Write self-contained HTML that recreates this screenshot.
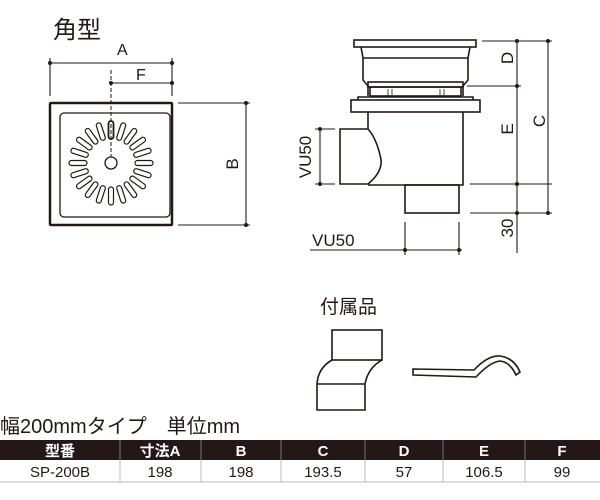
<!DOCTYPE html>
<html><head><meta charset="utf-8"><style>
body{margin:0;background:#fff;width:600px;height:500px;overflow:hidden;font-family:"Liberation Sans","Noto Sans CJK JP",sans-serif}
</style></head><body>
<svg width="600" height="500" viewBox="0 0 600 500" xmlns="http://www.w3.org/2000/svg" style="position:absolute;left:0;top:0">
<g font-family="Liberation Sans, Noto Sans CJK JP, sans-serif" fill="#231815">
<text x="53" y="38" font-size="24">角型</text>
<text x="117" y="55" font-size="16">A</text>
<text x="136" y="80" font-size="16">F</text>
<text x="238" y="164" font-size="17" transform="rotate(-90 238 164)" text-anchor="middle">B</text>
<text x="513" y="70" font-size="17" transform="rotate(-90 507 64)" text-anchor="middle">D</text>
<text x="513" y="141" font-size="17" transform="rotate(-90 507 135)" text-anchor="middle">E</text>
<text x="545" y="133" font-size="17" transform="rotate(-90 539 127)" text-anchor="middle">C</text>
<text x="513" y="240" font-size="17" transform="rotate(-90 507 234)" text-anchor="middle">30</text>
<text x="311" y="157" font-size="17" transform="rotate(-90 311 157)" text-anchor="middle">VU50</text>
<text x="312" y="246" font-size="17">VU50</text>
<text x="320" y="313" font-size="19">付属品</text>
<text x="0" y="433" font-size="20">幅200mmタイプ　単位mm</text>
</g>
<g stroke="#231815" fill="none">
<rect x="50" y="103" width="122" height="122" stroke-width="2.5" rx="1"/>
<rect x="60" y="113" width="110" height="104" rx="4" stroke-width="1.3"/>
<circle cx="111" cy="163" r="6" stroke-width="1.3"/>
<line x1="111" y1="70" x2="111" y2="157" stroke-dasharray="4,2" stroke-width="1"/>
<g stroke-width="1.1">
<line x1="50" y1="63" x2="172" y2="63"/><line x1="50" y1="58" x2="50" y2="96"/><line x1="172" y1="58" x2="172" y2="96"/>
<line x1="111" y1="83" x2="172" y2="83"/>
<line x1="178" y1="103" x2="250" y2="103"/><line x1="178" y1="225" x2="250" y2="225"/><line x1="246" y1="103" x2="246" y2="225"/>
</g>
<g fill="#231815" stroke="none">
<circle cx="50" cy="63" r="2"/><circle cx="172" cy="63" r="2"/><circle cx="111" cy="83" r="2"/><circle cx="172" cy="83" r="2"/>
<circle cx="246" cy="103" r="2"/><circle cx="246" cy="225" r="2"/>
</g>
<g stroke-width="1.6">
<rect x="354" y="40" width="122" height="7"/>
<path d="M361 47 L363 58 L363 80 L368 86 L368 96 M470 47 L468 58 L468 80 L463 86 L463 96"/>
<line x1="363" y1="58" x2="468" y2="58"/>
<rect x="368" y="82" width="95" height="5"/>
<rect x="370" y="87" width="91" height="9"/>
<rect x="351" y="100" width="129" height="12"/>
<path d="M358 100 L358 97 L473 97 L473 100"/>
<path d="M368 112 L368 129 M463 112 L463 185 L368 185"/>
<path d="M368 129 L340 129 L340 184 L368 184 Q385 170 380 155 Q376 138 368 129"/>
<rect x="405" y="185" width="54" height="28"/>
</g>
<g stroke-width="0.8">
<line x1="388" y1="89" x2="388" y2="96"/><line x1="392" y1="89" x2="392" y2="96"/>
<line x1="440" y1="89" x2="440" y2="96"/><line x1="444" y1="89" x2="444" y2="96"/>
</g>
<g stroke-width="1.1">
<line x1="482" y1="41" x2="552" y2="41"/><line x1="467" y1="86" x2="521" y2="86"/>
<line x1="470" y1="184" x2="552" y2="184"/><line x1="470" y1="213" x2="552" y2="213"/>
<line x1="517" y1="41" x2="517" y2="253"/><line x1="548" y1="41" x2="548" y2="213"/>
<line x1="315" y1="129" x2="335" y2="129"/><line x1="315" y1="184" x2="335" y2="184"/><line x1="320" y1="129" x2="320" y2="184"/>
<line x1="405" y1="222" x2="405" y2="255"/><line x1="459" y1="222" x2="459" y2="255"/><line x1="310" y1="250" x2="462" y2="250"/>
</g>
<g fill="#231815" stroke="none">
<circle cx="517" cy="41" r="2"/><circle cx="548" cy="41" r="2"/><circle cx="517" cy="86" r="2"/><circle cx="517" cy="184" r="2"/>
<circle cx="517" cy="213" r="2"/><circle cx="548" cy="213" r="2"/><circle cx="320" cy="129" r="2"/><circle cx="320" cy="184" r="2"/>
<circle cx="405" cy="250" r="2"/><circle cx="459" cy="250" r="2"/>
</g>
<g stroke-width="1.6">
<rect x="332" y="330" width="50" height="30"/>
<path d="M332 360 Q318 368 317 384 L317 410 L365 410 L365 384 Q368 368 382 360"/>
<line x1="317" y1="384" x2="365" y2="384"/>
<path d="M413 369 L474 370 Q488 355 500 356 Q514 358 520 372 L516 375 Q510 362 500 361 Q490 362 476 377 L413 375 Z"/>
</g>
</g>
<rect x="0" y="440" width="600" height="20" fill="#231815"/>
<g stroke="#bbb" stroke-width="1">
<line x1="0" y1="482" x2="600" y2="482"/>
<line x1="120" y1="460" x2="120" y2="482"/><line x1="201" y1="460" x2="201" y2="482"/><line x1="281" y1="460" x2="281" y2="482"/>
<line x1="365" y1="460" x2="365" y2="482"/><line x1="443" y1="460" x2="443" y2="482"/><line x1="525" y1="460" x2="525" y2="482"/>
</g>
<g stroke="#777" stroke-width="1">
<line x1="120" y1="440" x2="120" y2="460"/><line x1="201" y1="440" x2="201" y2="460"/><line x1="281" y1="440" x2="281" y2="460"/>
<line x1="365" y1="440" x2="365" y2="460"/><line x1="443" y1="440" x2="443" y2="460"/><line x1="525" y1="440" x2="525" y2="460"/>
</g>
<g font-family="Liberation Sans, Noto Sans CJK JP, sans-serif" font-size="15" text-anchor="middle">
<g fill="#fff" font-weight="bold">
<text x="60" y="456">型番</text><text x="160" y="456">寸法A</text><text x="241" y="456">B</text><text x="323" y="456">C</text>
<text x="404" y="456">D</text><text x="484" y="456">E</text><text x="562" y="456">F</text>
</g>
<g fill="#231815">
<text x="60" y="477">SP-200B</text><text x="160" y="477">198</text><text x="241" y="477">198</text><text x="323" y="477">193.5</text>
<text x="404" y="477">57</text><text x="484" y="477">106.5</text><text x="562" y="477">99</text>
</g>
</g>
<g stroke="#231815" stroke-width="1.2" fill="none">
<rect x="108.5" y="121" width="5" height="18" rx="2.5" transform="rotate(0 111 163)" stroke-width="1.8"/>
<rect x="108.5" y="121" width="5" height="18" rx="2.5" transform="rotate(18 111 163)"/>
<rect x="108.5" y="121" width="5" height="18" rx="2.5" transform="rotate(36 111 163)"/>
<rect x="108.5" y="121" width="5" height="18" rx="2.5" transform="rotate(54 111 163)"/>
<rect x="108.5" y="121" width="5" height="18" rx="2.5" transform="rotate(72 111 163)"/>
<rect x="108.5" y="121" width="5" height="18" rx="2.5" transform="rotate(90 111 163)"/>
<rect x="108.5" y="121" width="5" height="18" rx="2.5" transform="rotate(108 111 163)"/>
<rect x="108.5" y="121" width="5" height="18" rx="2.5" transform="rotate(126 111 163)"/>
<rect x="108.5" y="121" width="5" height="18" rx="2.5" transform="rotate(144 111 163)"/>
<rect x="108.5" y="121" width="5" height="18" rx="2.5" transform="rotate(162 111 163)"/>
<rect x="108.5" y="121" width="5" height="18" rx="2.5" transform="rotate(180 111 163)"/>
<rect x="108.5" y="121" width="5" height="18" rx="2.5" transform="rotate(198 111 163)"/>
<rect x="108.5" y="121" width="5" height="18" rx="2.5" transform="rotate(216 111 163)"/>
<rect x="108.5" y="121" width="5" height="18" rx="2.5" transform="rotate(234 111 163)"/>
<rect x="108.5" y="121" width="5" height="18" rx="2.5" transform="rotate(252 111 163)"/>
<rect x="108.5" y="121" width="5" height="18" rx="2.5" transform="rotate(270 111 163)"/>
<rect x="108.5" y="121" width="5" height="18" rx="2.5" transform="rotate(288 111 163)"/>
<rect x="108.5" y="121" width="5" height="18" rx="2.5" transform="rotate(306 111 163)"/>
<rect x="108.5" y="121" width="5" height="18" rx="2.5" transform="rotate(324 111 163)"/>
<rect x="108.5" y="121" width="5" height="18" rx="2.5" transform="rotate(342 111 163)"/>
</g>
</svg>
</body></html>
